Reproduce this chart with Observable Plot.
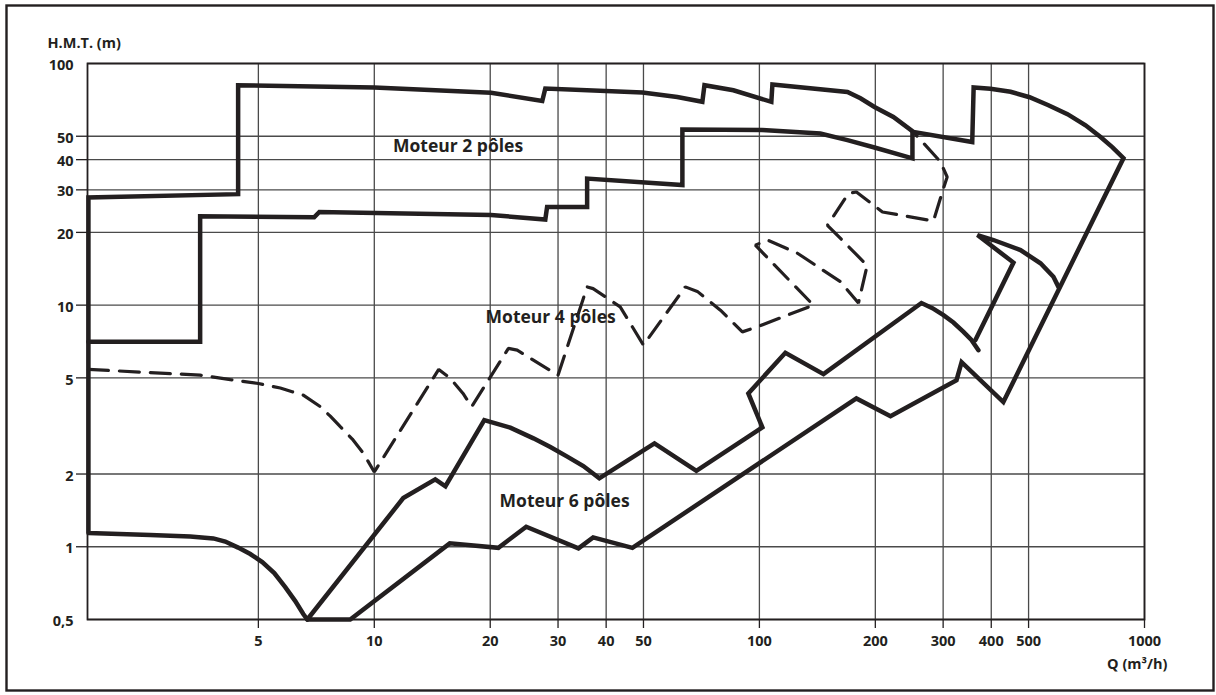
<!DOCTYPE html>
<html><head><meta charset="utf-8">
<script src="https://cdn.jsdelivr.net/npm/d3@7"></script>
<script src="https://cdn.jsdelivr.net/npm/@observablehq/plot@0.6"></script>
<style>html,body{margin:0;padding:0;background:#fff;} svg{display:block}</style>
</head><body><div id="chart"></div>
<script>
// Axis ticks
const xTicks = [5,10,20,30,40,50,100,200,300,400,500,1000];
const yTicks = [0.5,1,2,5,10,20,30,40,50,100];
const yTickMarks = [1,2,5,10,20,30,40,50];
const fmtY = d => String(d).replace(".", ",");

// Outer envelope (Q m3/h, H m)
const envQ = [1.81,1.81,4.43,4.43,10,20.1,27.3,27.8,49.7,61.2,71.1,72.0,85.6,107.4,108.1,169.3,183,199,222.8,251,357,360,398,449,503,563,631,703,769,826,882,430,335,325,219,178.6,46.8,37.0,33.9,24.8,21.0,15.7,8.66,6.70,6.54,6.234,5.872,5.499,5.118,4.764,4.43,4.102,3.82,3.327,2.62,1.81];
const envH = [1.14,27.9,28.8,81.3,79.6,75.6,70.0,78.8,75.9,72.7,69.4,81.3,77.5,69.4,81.9,76.3,71.8,66.1,60.1,52.1,47.3,79.6,78.6,76.4,72.5,67.2,61.7,55.5,49.6,45.0,40.6,3.97,5.81,4.89,3.47,4.11,0.99,1.094,0.985,1.21,0.99,1.033,0.5,0.5,0.527,0.596,0.681,0.778,0.864,0.933,0.992,1.051,1.083,1.102,1.118,1.14];

// 2-pole lower limit
const p2Q = [1.81,3.53,3.53,6.98,7.20,20.1,27.8,28.1,35.7,35.7,63.1,63.1,101.8,144,169.3,199,249.7,249.7];
const p2H = [7.05,7.05,23.3,23.1,24.3,23.6,22.6,25.5,25.5,33.4,31.4,53.3,53.0,51.3,48.2,44.9,40.5,52.1];

// 4-pole (dashed)
const p4dQ = [1.81,3.53,4.227,5.0,5.70,6.12,6.54,7.24,7.686,8.16,8.768,9.38,10,14.7,15.76,17.0,17.9,22.3,23.5,30.0,35.7,37.0,43.5,50.0,64.2,69.0,79.2,90.3,98.6,138.1,97.6,104.9,125.5,162.4,180.8,190.5,150.2,170.3,178.6,208.7,283.1,300.6,307.3,295.2,251.2];
const p4dH = [5.42,5.13,4.92,4.74,4.54,4.38,4.24,3.80,3.47,3.14,2.79,2.43,2.04,5.42,4.97,4.31,3.80,6.62,6.51,5.13,11.9,11.7,9.84,6.83,11.9,11.4,9.53,7.75,8.13,10.0,17.7,18.6,16.4,12.5,10.2,14.6,21.4,29.0,29.4,24.3,22.3,30.4,33.9,39.2,52.0];

// 6-pole upper limit
const p6Q = [6.70,11.89,14.4,15.3,19.3,22.55,25.9,28.65,31.7,34.9,38.4,53.4,68.6,101.8,93.6,116.8,146.7,263.5,281.4,300.6,319,338.8,355.3,370.5];
const p6H = [0.5,1.59,1.90,1.78,3.34,3.11,2.81,2.585,2.36,2.158,1.92,2.68,2.06,3.12,4.31,6.35,5.18,10.2,9.72,9.09,8.47,7.75,7.17,6.51];

// small closing curve (right)
const p5Q = [363.9,456.8,368.3,405.3,476.4,537,580.1,597.8];
const p5H = [7.17,15.0,19.5,18.6,16.9,14.9,13.1,11.9];

// Region labels
const labelText = ["Moteur 2 pôles","Moteur 4 pôles","Moteur 6 pôles"];
const labelQ = [16.5,28.7,31.2];
const labelH = [45.3,8.92,1.54];

const toRows = (qs, hs) => qs.map((q, i) => ({q, h: hs[i]}));
const ink = "#231f20";
const solid = {x: "q", y: "h", stroke: ink, strokeWidth: 4.5, strokeLinejoin: "miter", strokeMiterlimit: 3};

const chart = Plot.plot({
  width: 1216, height: 695,
  marginLeft: 87, marginRight: 72, marginTop: 63, marginBottom: 76,
  style: {fontFamily: "'Open Sans', sans-serif", fontWeight: "bold", fontSize: "14.5px", color: ink, background: "#fff"},
  x: {type: "log", domain: [1.8, 1000], axis: null},
  y: {type: "log", domain: [0.5, 100], axis: null},
  marks: [
    Plot.gridX(xTicks, {stroke: "#4a4a4a", strokeOpacity: 1, strokeWidth: 1.3}),
    Plot.gridY(yTicks, {stroke: "#4a4a4a", strokeOpacity: 1, strokeWidth: 1.3}),
    Plot.frame({stroke: ink, strokeWidth: 1.8}),
    Plot.frame({stroke: ink, strokeWidth: 2.4, insetLeft: -81, insetTop: -58, insetRight: -69, insetBottom: -71}),
    // x tick marks and labels
    Plot.ruleX(xTicks, {x: d => d, y1: 0.5, y2: 0.5, insetBottom: -9, stroke: ink, strokeWidth: 1.3}),
    Plot.text(xTicks, {x: d => d, frameAnchor: "bottom", dy: 22, lineAnchor: "middle", text: d => String(d), fontWeight: "bold", fill: ink}),
    // y tick marks and labels
    Plot.axisY(yTickMarks, {tickSize: 11, tickFormat: () => "", stroke: ink, strokeWidth: 1.3, label: null}),
    Plot.axisY(yTicks, {tickSize: 0, tickPadding: 14, tickFormat: fmtY, dy: 2, fontWeight: "bold", label: null}),
    Plot.line(toRows(envQ, envH), solid),
    Plot.line(toRows(p2Q, p2H), solid),
    Plot.line(toRows(p6Q, p6H), solid),
    Plot.line(toRows(p5Q, p5H), solid),
    Plot.line(toRows(p4dQ, p4dH), {x: "q", y: "h", stroke: ink, strokeWidth: 3.2, strokeDasharray: "20,11", strokeLinejoin: "miter"}),
    Plot.text(labelText, {x: (d, i) => labelQ[i], y: (d, i) => labelH[i], text: d => d, fontSize: 17.5, fontWeight: "bold", fill: ink, lineAnchor: "middle"}),
    Plot.text(["H.M.T. (m)"], {frameAnchor: "top-left", dx: -40, dy: -20, textAnchor: "start", lineAnchor: "middle", fontWeight: "bold", fill: ink}),
    Plot.text(["Q (m³/h)"], {frameAnchor: "bottom-right", dx: 23, dy: 45, textAnchor: "end", lineAnchor: "middle", fontWeight: "bold", fill: ink})
  ]
});
document.getElementById("chart").appendChild(chart);
</script></body></html>
